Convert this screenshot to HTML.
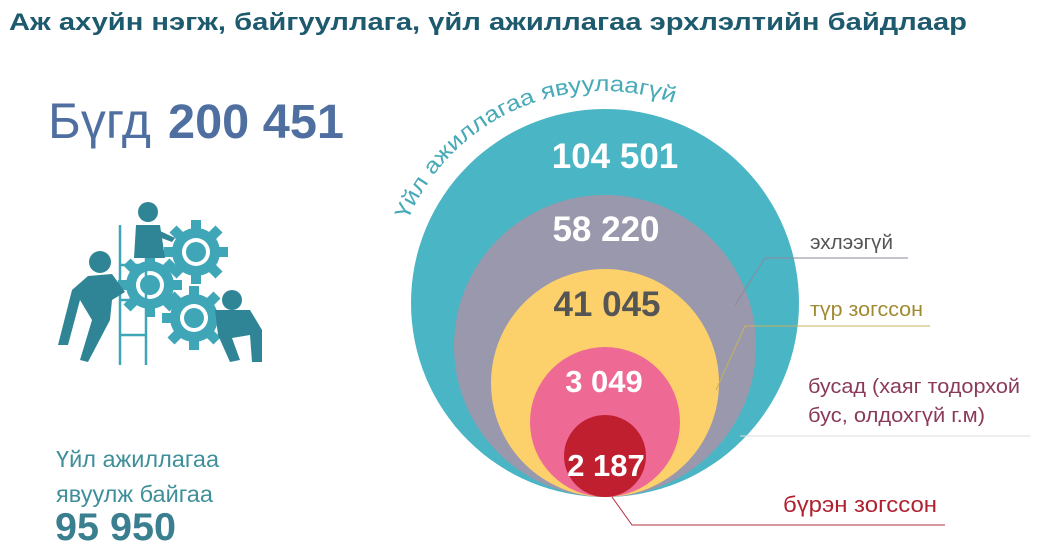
<!DOCTYPE html>
<html><head><meta charset="utf-8"><style>
body{margin:0;width:1053px;height:553px;background:#fff;overflow:hidden;font-family:"Liberation Sans",sans-serif}
svg{position:absolute;left:0;top:0}
</style></head><body>
<svg width="1053" height="553" viewBox="0 0 1053 553">
<text x="9" y="30" font-size="24" font-weight="bold" fill="#1e5a6e" textLength="958" lengthAdjust="spacingAndGlyphs">Аж ахуйн нэгж, байгууллага, үйл ажиллагаа эрхлэлтийн байдлаар</text>
<text x="48" y="138" font-size="50" fill="#4f6fa0">Бүгд</text>
<text x="168" y="138" font-size="48" font-weight="bold" fill="#4f6fa0" textLength="176" lengthAdjust="spacingAndGlyphs">200 451</text>
<g fill="#3fa6b8">
 <g transform="translate(196,252)"><circle r="24"/><g stroke="#3fa6b8" stroke-width="10"><line x1="0" y1="-32" x2="0" y2="32"/><line x1="-32" y1="0" x2="32" y2="0"/><line x1="-23" y1="-23" x2="23" y2="23"/><line x1="-23" y1="23" x2="23" y2="-23"/></g><circle r="14" fill="#fff"/><circle r="10"/></g>
 <g transform="translate(150,285)"><circle r="24"/><g stroke="#3fa6b8" stroke-width="10"><line x1="0" y1="-32" x2="0" y2="32"/><line x1="-32" y1="0" x2="32" y2="0"/><line x1="-23" y1="-23" x2="23" y2="23"/><line x1="-23" y1="23" x2="23" y2="-23"/></g><circle r="14" fill="#fff"/><circle r="10"/></g>
 <g transform="translate(194,318)"><circle r="24"/><g stroke="#3fa6b8" stroke-width="10"><line x1="0" y1="-32" x2="0" y2="32"/><line x1="-32" y1="0" x2="32" y2="0"/><line x1="-23" y1="-23" x2="23" y2="23"/><line x1="-23" y1="23" x2="23" y2="-23"/></g><circle r="14" fill="#fff"/><circle r="10"/></g>
 <g stroke="#3fa6b8" stroke-width="2.5" fill="none"><line x1="120" y1="225" x2="120" y2="365"/><line x1="146" y1="225" x2="146" y2="365"/><line x1="120" y1="265" x2="146" y2="265"/><line x1="120" y1="300" x2="146" y2="300"/><line x1="120" y1="335" x2="146" y2="335"/></g>
 <g fill="#2f8596">
  <circle cx="148" cy="212" r="10"/><path d="M136 225 L160 225 L165 258 L134 258 Z"/><path d="M158 230 L175 238 L172 242 L156 236Z"/>
  <circle cx="100" cy="262" r="11"/><path d="M88 276 L112 274 L125 292 L112 300 L110 320 L88 362 L80 360 L92 320 L80 300 L68 345 L58 345 L72 290Z"/>
  <circle cx="232" cy="300" r="10"/><path d="M215 310 L250 310 L262 330 L262 362 L252 362 L250 335 L232 338 L240 360 L230 362 L218 335Z"/>
 </g>
</g>
<text x="56" y="467" font-size="23.5" fill="#3f8f9a">Үйл ажиллагаа</text>
<text x="56" y="502" font-size="23.5" fill="#3f8f9a">явуулж байгаа</text>
<text x="55" y="540" font-size="39" font-weight="bold" fill="#3a7f8f" textLength="121" lengthAdjust="spacingAndGlyphs">95 950</text>
<defs><path id="arcp" d="M 391 303 A 212 212 0 0 1 815 303"/></defs>
<text font-size="22" fill="#48aab8"><textPath href="#arcp" startOffset="85" textLength="320" lengthAdjust="spacingAndGlyphs">Үйл ажиллагаа явуулаагүй</textPath></text>
<g id="rings"></g>
<g font-size="20">
 <polyline points="735,305 765,258 908,258" fill="none" stroke="#8a8a9a" stroke-width="1"/>
 <text x="810" y="249" fill="#555" textLength="83" lengthAdjust="spacingAndGlyphs">эхлээгүй</text>
 <polyline points="716,390 745,326 930,326" fill="none" stroke="#c8b060" stroke-width="1"/>
 <text x="810" y="316" fill="#a08a30" textLength="113" lengthAdjust="spacingAndGlyphs">түр зогссон</text>
 <line x1="740" y1="436" x2="1030" y2="436" stroke="#ddd" stroke-width="1"/>
 <text x="808" y="393" fill="#8a3a5a" textLength="212" lengthAdjust="spacingAndGlyphs">бусад (хаяг тодорхой</text>
 <text x="808" y="422" fill="#8a3a5a" textLength="177" lengthAdjust="spacingAndGlyphs">бус, олдохгүй г.м)</text>
 <polyline points="612,497 632,525 945,525" fill="none" stroke="#b03040" stroke-width="1"/>
 <text x="783" y="512" fill="#b0202f" font-size="22" textLength="154" lengthAdjust="spacingAndGlyphs">бүрэн зогссон</text>
</g>
</svg>
<script>
const categories=["inactive","not-started","temp-stopped","other","fully-stopped"];
const values=[104501,58220,41045,3049,2187];
const valueLabels=["104 501","58 220","41 045","3 049","2 187"];
const ringRadius=[194,151,114,75,41];
const ringFill=["#4ab5c4","#9a98ac","#fcd06a","#ee6a95","#c01f30"];
const labelY=[168,241,316,392,476];
const labelDx=[10,1,2,-1,1];
const labelColor=["#fff","#fff","#555","#fff","#fff"];
const ns="http://www.w3.org/2000/svg";
const g=document.getElementById('rings');
const baseY=497,cx=605;
values.forEach((v,i)=>{
 const c=document.createElementNS(ns,'circle');
 c.setAttribute('cx',cx);c.setAttribute('cy',baseY-ringRadius[i]);c.setAttribute('r',ringRadius[i]);c.setAttribute('fill',ringFill[i]);
 
 
 g.appendChild(c);
});
values.forEach((v,i)=>{
 const t=document.createElementNS(ns,'text');
 t.setAttribute('x',cx+labelDx[i]);t.setAttribute('y',labelY[i]);t.setAttribute('text-anchor','middle');
 t.setAttribute('font-size',i<3?35:31);t.setAttribute('font-weight','bold');t.setAttribute('fill',labelColor[i]);
 t.textContent=valueLabels[i];
 
 
 g.appendChild(t);
});
</script>
</body></html>
